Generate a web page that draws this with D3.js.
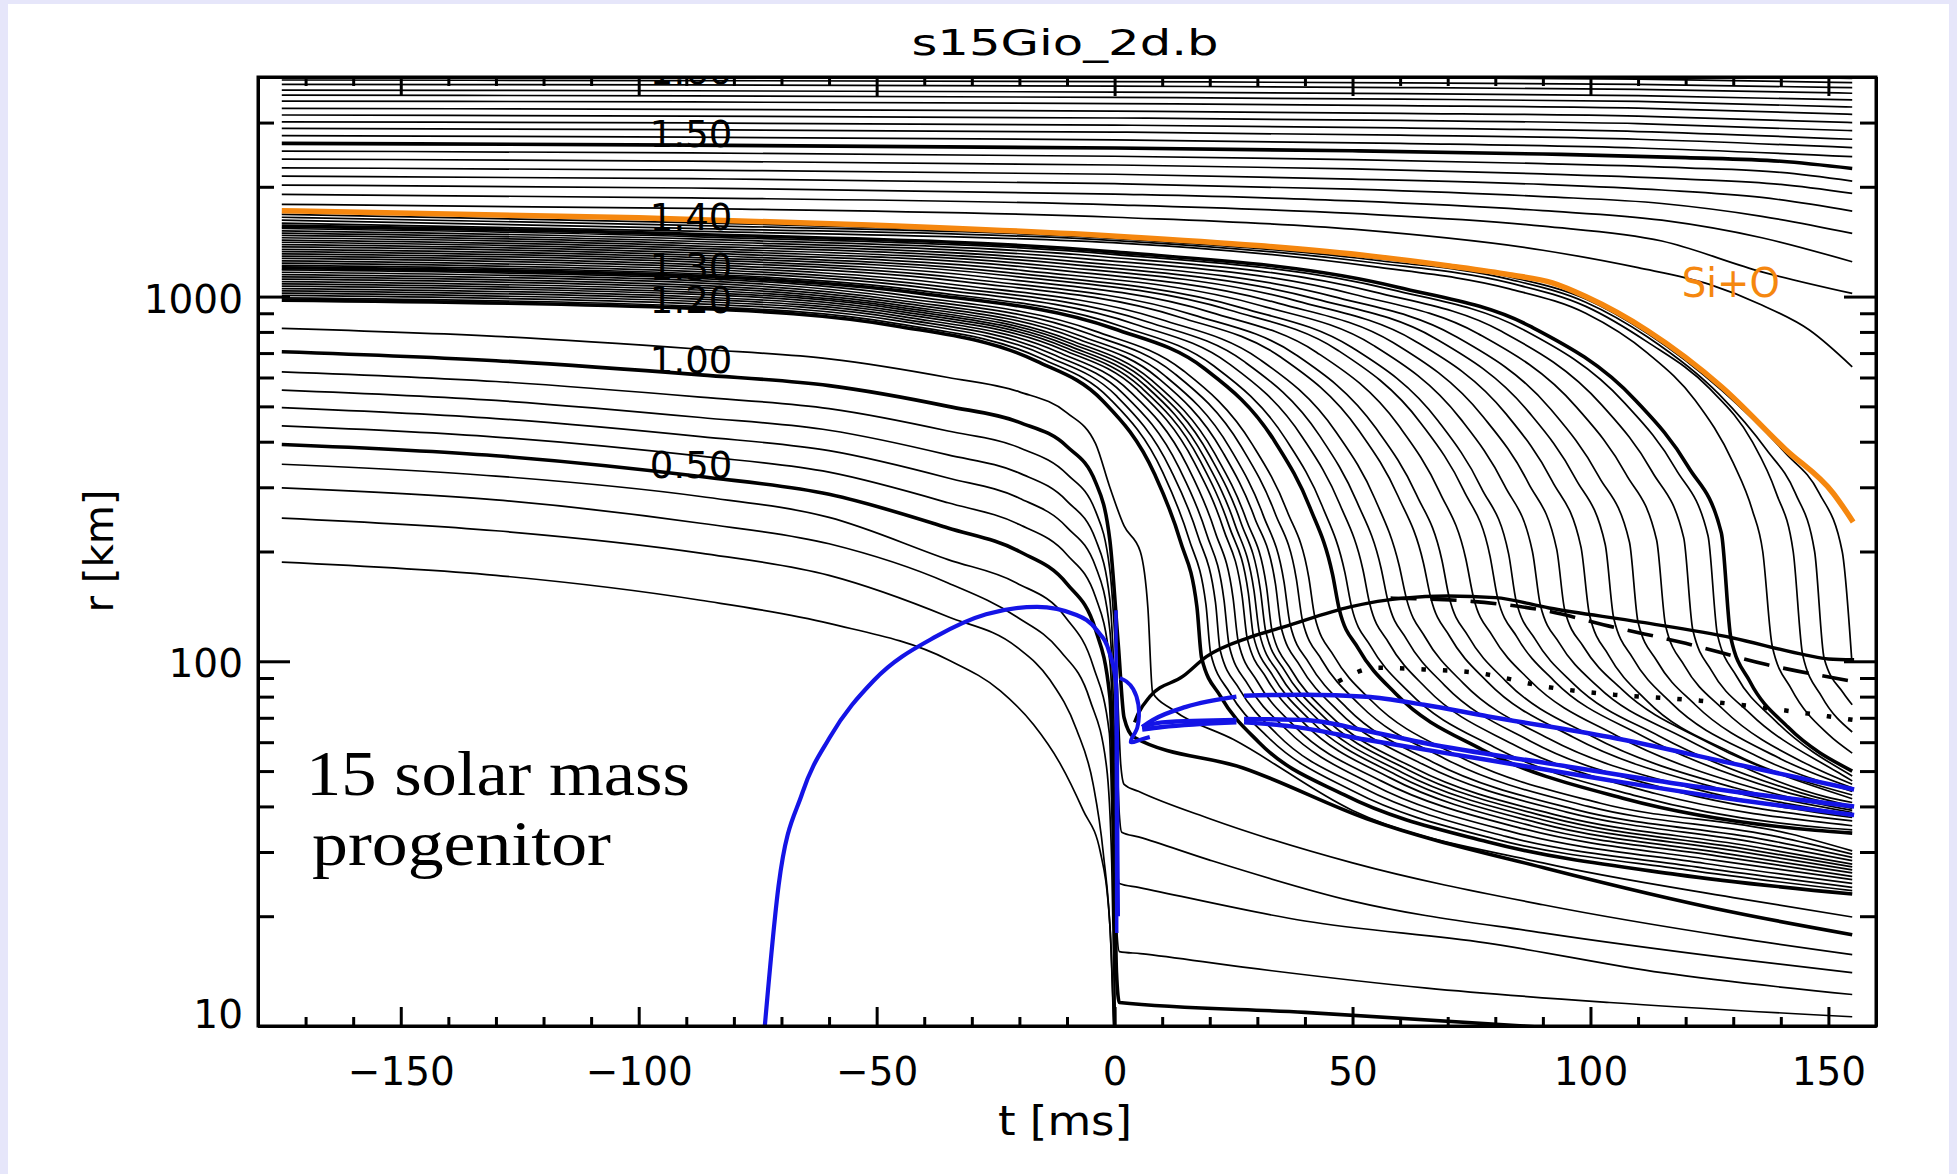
<!DOCTYPE html>
<html><head><meta charset="utf-8">
<script src="https://cdn.jsdelivr.net/npm/d3@7"></script>
<style>html,body{margin:0;padding:0;background:#e6e6fa;}svg{display:block}</style>
</head><body><svg id="c" width="1957" height="1174"></svg>
<script>
// ---------------- DATA ----------------
const titleText = "s15Gio_2d.b";
const xLabelText = "t [ms]";
const yLabelText = "r [km]";
const noteLines = ["15 solar mass", "progenitor"];
const xTickValues = [-150, -100, -50, 0, 50, 100, 150];
const yTickValues = [10, 100, 1000];

// mass labels placed at (t, r) in data space
const massLabels = [
  {text: "1.60", t: -89, r: 3830},
  {text: "1.50", t: -89, r: 2571},
  {text: "1.40", t: -89, r: 1521},
  {text: "1.30", t: -89, r: 1110},
  {text: "1.20", t: -89, r: 901},
  {text: "1.00", t: -89, r: 617},
  {text: "0.50", t: -89, r: 318}
];

// outer shells (above the Si+O interface)  [t ms, r km]
const outerShells = [
  [[-175,1790],[-89,1745],[0,1650],[50,1530],[90,1340],[110,1200],[125,1080],[136,948],[146,810],[155,642]],
  [[-175,1906],[-89,1865],[0,1785],[50,1690],[90,1560],[115,1420],[136,1169],[155,1020]],
  [[-175,2022],[-89,1985],[0,1910],[50,1830],[90,1720],[115,1620],[136,1450],[155,1246]],
  [[-175,2139],[-89,2105],[0,2040],[50,1970],[90,1880],[115,1800],[136,1660],[155,1491]],
  [[-175,2255],[-89,2222],[0,2165],[50,2100],[90,2030],[115,1960],[136,1870],[155,1716]],
  [[-175,2383],[-89,2352],[0,2295],[50,2240],[90,2170],[120,2100],[140,2030],[155,1918]],
  [[-175,2506],[-89,2477],[0,2425],[50,2375],[90,2315],[120,2255],[140,2190],[155,2074]],
  [[-175,2630],[-89,2602],[0,2555],[50,2510],[90,2460],[120,2405],[140,2350],[155,2246]],
  [[-175,2761],[-89,2737],[0,2690],[60,2630],[110,2555],[155,2420]],
  [[-175,2892],[-89,2868],[0,2825],[60,2770],[110,2700],[155,2560]],
  [[-175,3015],[-89,2993],[0,2952],[60,2900],[110,2835],[155,2700]],
  [[-175,3147],[-89,3126],[0,3088],[60,3040],[110,2980],[155,2850]],
  [[-175,3281],[-89,3261],[0,3225],[60,3180],[110,3125],[155,3000]],
  [[-175,3436],[-89,3417],[0,3382],[60,3340],[110,3288],[155,3160]],
  [[-175,3568],[-89,3550],[0,3518],[60,3478],[110,3430],[155,3310]],
  [[-175,3683],[-89,3667],[0,3637],[60,3600],[110,3555],[155,3460]],
  [[-175,3819],[-89,3804],[0,3776],[60,3742],[110,3700],[155,3610]],
  [[-175,3925],[-89,3911],[0,3886],[60,3855],[110,3817],[155,3740]],
  [[-175,4060],[-89,4046],[0,4020],[60,3985],[110,3945],[155,3860]],
  [[-175,4180],[-89,4165],[0,4138],[60,4100],[110,4060],[155,3963]]
];
const outerThick = [7];

// shells that fall through the shock after bounce
const infallShells = [
  [[-175,978],[-89,929],[-46,831],[-16.4,665],[-2.5,518],[8.4,326],[13.8,214],[17.3,141],[18.3,102],[22.3,80],[30.3,60],[48.3,43],[78.3,32],[118.3,26],[155,23]],
  [[-175,992],[-89,942],[-45.7,843],[-15.3,675],[-1.1,526],[10.1,330],[15.6,217],[19.2,143],[20.2,105],[24.2,82],[32.2,62],[50.2,44],[80.2,32.5],[120.2,26.8],[155,23.5]],
  [[-175,1007],[-89,957],[-45.1,856],[-14.1,685],[0.4,534],[11.8,335],[17.5,221],[21.2,145],[22.2,107],[26.2,84],[34.2,63],[52.2,45],[82.2,33.1],[122.2,27.3],[155,24]],
  [[-175,1022],[-89,971],[-44.8,869],[-13,695],[1.8,542],[13.5,340],[19.3,224],[23,147],[24.1,110],[28.1,86],[36.1,65],[54.1,46],[84.1,33.9],[124.1,27.9],[155,24.6]],
  [[-175,1037],[-89,985],[-44.5,881],[-11.9,705],[3.2,550],[15.2,345],[21.1,227],[24.9,149],[26,113],[30,88],[38,66],[56,47],[86,34.7],[126,28.5],[155,25.2]],
  [[-175,1052],[-89,999],[-44.1,894],[-10.9,715],[4.6,558],[16.8,350],[22.9,230],[26.8,151],[27.9,115],[31.9,90],[39.9,67.5],[57.9,47.9],[87.9,35.3],[127.9,29.1],[155,25.7]],
  [[-175,1068],[-89,1015],[-44.5,908],[-10.5,726],[5.4,566],[17.9,356],[24.1,234],[28.1,154],[29.2,117],[33.2,91.5],[41.2,68.8],[59.2,48.8],[89.2,36],[129.2,29.6],[155,26.3]],
  [[-175,1083],[-89,1029],[-44.6,921],[-10,736],[6.2,574],[18.9,361],[25.3,237],[29.3,156],[30.5,118.5],[34.5,92.7],[42.5,69.7],[60.5,49.5],[90.5,36.6],[130.5,30.2],[155,26.8]],
  [[-175,1099],[-89,1044],[-45,934],[-9.6,747],[7,582],[20,366],[26.5,241],[30.6,158],[31.8,120],[35.8,94],[43.8,70.7],[61.8,50.3],[91.8,37.2],[131.8,30.7],[155,27.3]],
  [[-175,1116],[-89,1060],[-45.6,949],[-9.3,759],[7.7,591],[21,372],[27.7,244],[31.9,161],[33.1,121],[37.1,94.8],[45.1,71.4],[63.1,50.9],[93.1,37.8],[133.1,31.2],[155,27.8]],
  [[-175,1132],[-89,1075],[-45.3,962],[-8.3,770],[9,600],[22.6,377],[29.4,248],[33.8,163],[35,124],[39,97],[47,73],[65,52],[95,38.6],[135,31.8],[155,28.4]],
  [[-175,1149],[-89,1092],[-45.3,977],[-7.3,781],[10.4,609],[24.3,383],[31.2,252],[35.6,165],[36.9,126],[40.9,98.7],[48.9,74.3],[66.9,52.9],[96.9,39.2],[136.9,32.4],[155,29]],
  [[-175,1166],[-89,1108],[-44.5,991],[-5.7,793],[12.4,618],[26.6,388],[33.7,255],[38.2,168],[39.5,129],[43.5,101],[51.5,76],[69.5,54],[99.5,40],[139.5,33],[155,29.6]],
  [[-175,1183],[-89,1124],[-43.7,1006],[-4.1,804],[14.4,627],[28.9,394],[36.2,259],[40.8,170],[42.1,132],[46.1,103.3],[54.1,77.7],[72.1,55.1],[102.1,40.8],[142.1,33.6],[155,30.2]],
  [[-175,1200],[-89,1140],[-40.6,1020],[-0.1,816],[18.8,636],[33.7,400],[41.1,263],[45.8,173],[47.2,139],[51.2,108.5],[59.2,81.2],[77.2,57.3],[107.2,42],[147.2,34.4],[155,33.8]],
  [[-175,1218],[-89,1157],[-39.9,1035],[1.5,828],[20.8,646],[36,406],[43.6,267],[48.4,175],[49.8,141],[53.8,110],[61.8,82.4],[79.8,58.1],[109.8,42.7],[149.8,34.9],[155,34.5]],
  [[-175,1235],[-89,1173],[-37.9,1050],[4.3,840],[24,655],[39.5,411],[47.3,270],[52.2,178],[53.6,144],[57.6,112.4],[65.6,84.1],[83.6,59.3],[113.6,43.4],[155,35.4]],
  [[-175,1253],[-89,1190],[-36.2,1065],[7,852],[27.2,664],[43,417],[50.9,274],[56,180],[57.4,147],[61.4,114.7],[69.4,85.8],[87.4,60.4],[117.4,44.2],[155,36.5]],
  [[-175,1272],[-89,1208],[-34.4,1081],[9.8,865],[30.4,674],[46.6,424],[54.7,279],[59.8,183],[61.3,149],[65.3,116.2],[73.3,87],[91.3,61.3],[121.3,44.9],[155,37.3]],
  [[-175,1291],[-89,1226],[-31.5,1097],[13.7,878],[34.8,684],[51.3,430],[59.6,283],[64.9,186],[66.4,150],[70.4,117.1],[78.4,87.7],[96.4,61.9],[126.4,45],[155,38]],
  [[-175,1310],[-89,1245],[-29.7,1114],[16.5,891],[38,694],[54.9,436],[63.4,287],[68.8,189],[70.3,150],[74.3,117.2],[82.3,88],[100.3,62.3],[130.3,45],[155,38.5]],
  [[-175,1329],[-89,1263],[-26.8,1130],[20.4,904],[42.4,704],[59.7,443],[68.3,291],[73.8,191],[75.4,150],[79.4,117.4],[87.4,88.3],[105.4,62.6],[135.4,44.5],[155,39]],
  [[-175,1348],[-89,1281],[-23.9,1146],[24.3,917],[46.8,714],[64.4,449],[73.3,295],[78.9,194],[80.5,149],[84.5,116.8],[92.5,88],[110.5,62.8],[140.5,44],[155,39.5]],
  [[-175,1368],[-89,1300],[-22.3,1163],[26.9,930],[49.9,725],[68,456],[77,300],[82.8,197],[84.4,146],[88.4,114.8],[96.4,86.9],[114.4,62.4],[144.4,43.5],[155,40]],
  [[-175,1388],[-89,1319],[-19.5,1180],[30.8,944],[54.3,736],[72.7,462],[81.9,304],[87.8,200],[89.5,142],[93.5,112],[101.5,85.3],[119.5,61.8],[149.5,42.5],[155,41]],
  [[-175,1409],[-89,1339],[-16.9,1198],[34.5,958],[58.6,747],[77.4,469],[86.9,309],[92.9,203],[94.6,138],[98.6,109.3],[106.6,83.7],[124.6,60],[155,42]],
  [[-175,1429],[-89,1358],[-14.2,1215],[38.4,972],[63,757],[82.3,476],[91.9,313],[98,206],[99.8,134],[103.8,104],[111.8,78],[129.8,56],[155,43]],
  [[-175,1450],[-89,1378],[-11.6,1233],[42.2,986],[67.3,769],[87,483],[96.8,318],[103.1,209],[104.9,131],[108.9,102],[116.9,77],[134.9,55],[155,44]],
  [[-175,1472],[-89,1398],[-9.2,1251],[45.8,1001],[71.5,780],[91.7,490],[101.7,322],[108.2,212],[110,128],[114,100],[122,76],[140,54],[155,45]],
  [[-175,1493],[-89,1418],[-6,1269],[50.2,1015],[76.4,791],[97.1,497],[107.4,327],[113.9,215],[115.8,125],[119.8,97],[127.8,74],[145.8,52],[155,46]],
  [[-175,1515],[-89,1439],[-2.9,1288],[54.5,1030],[81.3,803],[102.4,504],[112.9,332],[119.6,218],[121.5,122],[125.5,94],[133.5,72],[151.5,50],[155,47]],
  [[-175,1537],[-89,1460],[-0.4,1306],[58.2,1045],[85.6,815],[107.1,512],[117.9,337],[124.7,221],[126.7,118],[130.7,91],[138.7,69],[155,48.5]],
  [[-175,1560],[-89,1482],[-0.5,1326],[59.5,1061],[87.5,827],[109.5,519],[120.5,342],[127.5,225],[129.5,116],[133.5,88],[141.5,66],[155,50]],
  [[-175,1590],[-89,1511],[2,1400],[54,1210],[83,1050],[99,900],[112,700],[122,520],[130,350],[134,260],[136.2,200],[138.2,110],[142.2,84],[150,63],[155,56]],
  [[-175,1620],[-89,1539],[2,1420],[54,1240],[83,1090],[99,940],[112,750],[125,560],[134,400],[139,290],[142.6,200],[144.6,104],[148.6,80],[155,64]],
  [[-175,1650],[-89,1568],[2,1437],[54,1262],[83,1115],[99,965],[112,775],[127,540],[137,380],[143,290],[147.1,200],[149.1,102],[153.1,82],[155,76]],
  [[-175,1680],[-89,1596],[2,1448],[54,1277],[83,1133],[99,985],[112,792],[127.6,553],[141,372],[148,290],[152.9,200],[154.9,101]]
];
const infallThick = [0, 14, 32];

// inner shells 0.1 ... 1.1 Msun (collapse before bounce)
const innerShells = [
  [[-175,187],[-130,172],[-87,147],[-60,127],[-35,101],[-24,83],[-17,67],[-11.5,52.6],[-6.6,39],[-3,30],[-1,19],[0,8]],
  [[-175,247],[-130,228],[-87,198],[-60,172],[-35,132.5],[-20.6,109.5],[-13.6,89],[-8,65],[-4.5,46],[-2.4,30],[-0.7,16],[0.1,8]],
  [[-175,299],[-130,277],[-87,239],[-60,210],[-35,164],[-20.6,132.5],[-11.5,107],[-5.2,78.5],[-1.7,51.5],[-0.6,28],[0.2,8]],
  [[-175,347],[-130,322],[-87,283],[-60,248],[-35,190],[-20.6,164],[-10.4,132.5],[-4.5,97],[-1.1,63.5],[-0.4,30],[0.3,8]],
  [[-175,393],[-130,366],[-87,321],[-60,287],[-35,232],[-20,200],[-10,163],[-4,122],[-1,80],[-0.2,40],[0.4,14],[1,11.6],[40,10.9],[86,10],[100,9.7]],
  [[-175,442],[-130,412],[-87,365],[-60,330],[-35,272],[-20,237],[-10,196],[-4,150],[-1,100],[-0.1,50],[0.5,18],[1,16],[5.4,15.8],[27,14.5],[65.6,12.7],[104,11.6],[155,10.6]],
  [[-175,496],[-130,463],[-87,413],[-60,378],[-35,318],[-20,280],[-10,233],[-4,182],[-1,122],[0,60],[0.6,27],[1,24.6],[5,24],[40,19.4],[78,16.9],[115,14],[155,12.2]],
  [[-175,554],[-130,519],[-87,466],[-60,430],[-35,368],[-20,328],[-10,275],[-4,216],[-1,148],[0.2,75],[1,38],[1.5,34],[5,33],[20,28.5],[50,22],[90,18],[130,15.3],[155,14]],
  [[-175,622],[-130,585],[-87,530],[-60,493],[-35,428],[-20,385],[-10,326],[-4,258],[-1,178],[0.5,90],[1.3,52],[2,46],[5,44],[20,37],[50,28],[90,21.5],[130,17.5],[155,15.7]],
  [[-175,706],[-130,667],[-87,610],[-60,570],[-35,500],[-20,452],[-10,388],[-4,310],[-1,215],[0.8,110],[2,70],[4,62],[27,51],[53,37],[91,27],[130,20.5],[155,17.8]],
  [[-175,818],[-130,778],[-87,717],[-60,675],[-35,600],[-20,548],[-10,480],[-4,395],[-1,300],[2,235],[5.4,200],[7,140],[8,82],[12,74],[25,61],[50,39],[90,28],[130,22.5],[155,19.9]]
];
const innerThick = [4, 9];

// Si+O interface
const siOLine = [[-175,1720],[-100,1645],[-50,1570],[2,1460],[30,1380],[54,1291],[70,1215],[83,1148],[92,1090],[99,1000],[112,806],[127.6,565],[141,381],[151,289],[155.2,241]];
const siOLabel = {text: "Si+O", t: 119.2, r: 1000};

// shock radius, dashed and dotted curves
const shockLine = [[4.2,68],[5,72],[7.4,80],[14.4,91],[19.3,103],[28.5,116.5],[35.4,124],[49.5,141],[60.6,149],[70,151],[80,149.5],[91.3,140],[110.6,128],[129.7,116],[145.3,104],[150,101.5],[155.4,101]];
const dashedLine = [[58,149],[75,146],[90,138],[105,124],[120,112],[137,98],[155.4,88]];
const dottedLine = [[47,88],[55,96],[65,95],[76,93],[91,85],[105,81],[123,78],[142,73],[155.4,69]];

// blue curves
const blueArc = [[-73.5,10],[-70.6,24.3],[-65.6,43.6],[-59.8,62],[-50.6,88.6],[-37.5,117],[-27,134.6],[-16.3,141],[-8,134],[-3.8,122],[-1,105],[0.3,87],[0.5,60],[0.6,30],[0.7,20]];
const blueSpike = [[0.3,138],[0.45,18]];
const blueHook = [[1.1,90],[2.5,88],[3.9,84],[5.0,76],[4.8,66],[3.4,60],[5.5,61],[7.4,62]];
const blueTracks = [
  [[5.8,66],[8,69],[15,75],[25.6,80]],
  [[27.2,80.5],[40,81],[52.9,80],[65,76],[78.5,70.6],[104,62],[129.7,52.5],[155.4,44.5]],
  [[5.8,66],[10,68],[25.6,69]],
  [[27.2,69.5],[40,69],[52.9,64.5],[65.6,59.5],[91,52.5],[117,46.4],[155.4,40]],
  [[5.8,65],[10,66],[25.6,68]],
  [[27.2,68],[37.5,66.2],[52.9,60.9],[78.5,53.6],[104,47.2],[129.7,41.9],[155.4,37.9]]
];

// ---------------- DRAWING ----------------
const m = {left: 258, right: 1876, top: 77, bottom: 1026};
const FONT = "'DejaVu Sans', sans-serif";
const x = d3.scaleLinear().domain([-180, 160]).range([m.left, m.right]);
const y = d3.scaleLog().domain([10, 4000]).range([m.bottom, m.top]);

const svg = d3.select("#c");
svg.append("rect").attr("x", 8).attr("y", 4).attr("width", 1941).attr("height", 1170).attr("fill", "#fff");

svg.append("defs").append("clipPath").attr("id", "plot")
  .append("rect").attr("x", m.left).attr("y", m.top).attr("width", m.right - m.left).attr("height", m.bottom - m.top);

const plot = svg.append("g").attr("clip-path", "url(#plot)");
const smooth = d3.line().x(d => x(d[0])).y(d => y(d[1])).curve(d3.curveMonotoneX);
const straight = d3.line().x(d => x(d[0])).y(d => y(d[1]));
const catmull = d3.line().x(d => x(d[0])).y(d => y(d[1])).curve(d3.curveCatmullRom.alpha(0.5));

function drawGroup(data, thick) {
  plot.append("g").selectAll("path").data(data).join("path")
    .attr("d", smooth).attr("fill", "none").attr("stroke", "#000")
    .attr("stroke-linejoin", "round")
    .attr("stroke-width", (d, i) => thick.includes(i) ? 3.6 : 1.7);
}
drawGroup(outerShells, outerThick);
drawGroup(infallShells, infallThick);
drawGroup(innerShells, innerThick);

plot.append("path").attr("d", smooth(siOLine)).attr("fill", "none").attr("stroke", "#f5870f").attr("stroke-width", 5.5);

plot.append("path").attr("d", smooth(shockLine)).attr("fill", "none").attr("stroke", "#000").attr("stroke-width", 3.4).attr("stroke-linejoin", "round");
plot.append("path").attr("d", smooth(dashedLine)).attr("fill", "none").attr("stroke", "#000").attr("stroke-width", 3.6).attr("stroke-dasharray", "26,14");
plot.append("path").attr("d", smooth(dottedLine)).attr("fill", "none").attr("stroke", "#000").attr("stroke-width", 4.5).attr("stroke-dasharray", "4.5,17");

const BLUE = "#1414e6";
plot.append("path").attr("d", smooth(blueArc)).attr("fill", "none").attr("stroke", BLUE).attr("stroke-width", 4.2);
plot.append("path").attr("d", straight(blueSpike)).attr("fill", "none").attr("stroke", BLUE).attr("stroke-width", 3.5);
plot.append("path").attr("d", catmull(blueHook)).attr("fill", "none").attr("stroke", BLUE).attr("stroke-width", 4);
plot.append("g").selectAll("path").data(blueTracks).join("path")
  .attr("d", smooth).attr("fill", "none").attr("stroke", BLUE).attr("stroke-width", 4.5);

// mass labels
plot.append("g").selectAll("text").data(massLabels).join("text")
  .attr("x", d => x(d.t)).attr("y", d => y(d.r))
  .attr("text-anchor", "middle").attr("font-family", FONT).attr("font-size", 37)
  .text(d => d.text);

// Si+O label
svg.append("text").attr("x", x(siOLabel.t)).attr("y", y(siOLabel.r))
  .attr("font-family", FONT).attr("font-size", 40).attr("fill", "#f5870f")
  .attr("textLength", 98).attr("lengthAdjust", "spacingAndGlyphs")
  .text(siOLabel.text);

// axes
function styleAxis(g) {
  g.selectAll("path.domain").attr("stroke", "#000").attr("stroke-width", 3);
  g.selectAll(".tick line").attr("stroke", "#000").attr("stroke-width", 3);
  g.selectAll("text").attr("font-family", FONT).attr("font-size", 39).attr("fill", "#000");
}
const fmt = d3.format("d");
const xMinor = d3.range(-170, 161, 10).filter(v => v % 50 !== 0);
const yMinor = [20,30,40,50,60,70,80,90,200,300,400,500,600,700,800,900,2000,3000];

svg.append("g").attr("transform", `translate(0,${m.bottom})`)
  .call(d3.axisBottom(x).tickValues(xTickValues).tickSize(-19).tickSizeOuter(0).tickPadding(31).tickFormat(fmt)).call(styleAxis);
svg.append("g").attr("transform", `translate(0,${m.bottom})`)
  .call(d3.axisBottom(x).tickValues(xMinor).tickSize(-9).tickSizeOuter(0).tickFormat("")).call(styleAxis);
svg.append("g").attr("transform", `translate(0,${m.top})`)
  .call(d3.axisTop(x).tickValues(xTickValues).tickSize(-19).tickSizeOuter(0).tickFormat("")).call(styleAxis);
svg.append("g").attr("transform", `translate(0,${m.top})`)
  .call(d3.axisTop(x).tickValues(xMinor).tickSize(-9).tickSizeOuter(0).tickFormat("")).call(styleAxis);

const gy = svg.append("g").attr("transform", `translate(${m.left},0)`)
  .call(d3.axisLeft(y).tickValues(yTickValues).tickSize(-32).tickSizeOuter(0).tickPadding(15).tickFormat(fmt)).call(styleAxis);
gy.selectAll(".tick text").attr("dy", d => d === 10 ? "0.05em" : "0.4em");
svg.append("g").attr("transform", `translate(${m.left},0)`)
  .call(d3.axisLeft(y).tickValues(yMinor).tickSize(-16).tickSizeOuter(0).tickFormat("")).call(styleAxis);
svg.append("g").attr("transform", `translate(${m.right},0)`)
  .call(d3.axisRight(y).tickValues(yTickValues).tickSize(-32).tickSizeOuter(0).tickFormat("")).call(styleAxis);
svg.append("g").attr("transform", `translate(${m.right},0)`)
  .call(d3.axisRight(y).tickValues(yMinor).tickSize(-16).tickSizeOuter(0).tickFormat("")).call(styleAxis);

svg.append("rect").attr("x", m.left).attr("y", m.top).attr("width", m.right - m.left).attr("height", m.bottom - m.top)
  .attr("fill", "none").attr("stroke", "#000").attr("stroke-width", 3);

// title & axis labels
svg.append("text").attr("x", 1065).attr("y", 55).attr("text-anchor", "middle")
  .attr("font-family", FONT).attr("font-size", 35)
  .attr("textLength", 307).attr("lengthAdjust", "spacingAndGlyphs").text(titleText);
svg.append("text").attr("x", 1065).attr("y", 1135).attr("text-anchor", "middle")
  .attr("font-family", FONT).attr("font-size", 40)
  .attr("textLength", 134).attr("lengthAdjust", "spacingAndGlyphs").text(xLabelText);
svg.append("text").attr("transform", "translate(113,551) rotate(-90)").attr("text-anchor", "middle")
  .attr("font-family", FONT).attr("font-size", 40)
  .attr("textLength", 123).attr("lengthAdjust", "spacingAndGlyphs").text(yLabelText);

// annotation
svg.append("text").attr("x", 306).attr("y", 795).attr("font-family", "'Liberation Serif', serif").attr("font-size", 64)
  .attr("textLength", 384).attr("lengthAdjust", "spacingAndGlyphs").text(noteLines[0]);
svg.append("text").attr("x", 312).attr("y", 865).attr("font-family", "'Liberation Serif', serif").attr("font-size", 64)
  .attr("textLength", 299).attr("lengthAdjust", "spacingAndGlyphs").text(noteLines[1]);
</script></body></html>
